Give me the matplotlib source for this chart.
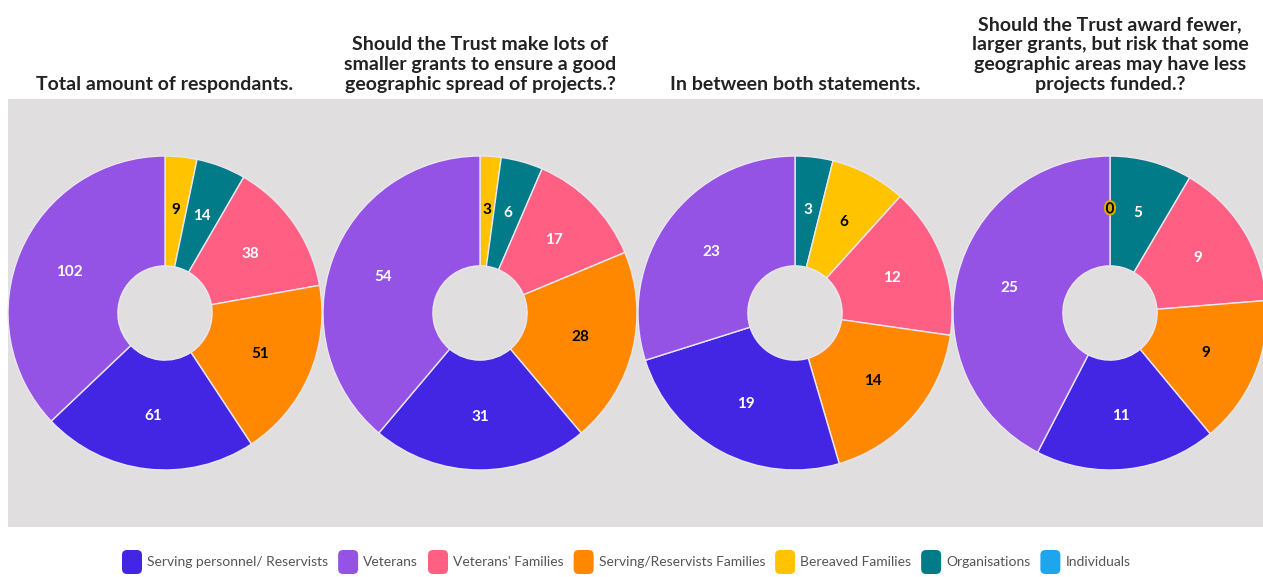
import numpy as np
import matplotlib
matplotlib.use("Agg")
import matplotlib.pyplot as plt
import matplotlib.patheffects as pe
from matplotlib.patches import FancyBboxPatch, Rectangle

plt.rcParams['font.family'] = ['Lato', 'DejaVu Sans']

categorias = ["Serving personnel/ Reservists", "Veterans", "Veterans' Families",
              "Serving/Reservists Families", "Bereaved Families", "Organisations",
              "Individuals"]
colores = ["#4326e3", "#9453e4", "#fe5f83", "#ff8800", "#ffc300", "#027b88", "#1ea5ec"]
texto_oscuro = ["Serving/Reservists Families", "Bereaved Families"]

titulos = ["Total amount of respondants.",
           "Should the Trust make lots of\nsmaller grants to ensure a good\ngeographic spread of projects.?",
           "In between both statements.",
           "Should the Trust award fewer,\nlarger grants, but risk that some\ngeographic areas may have less\nprojects funded.?"]

# orden de las porciones, en sentido horario desde arriba
orden1 = ["Bereaved Families", "Organisations", "Veterans' Families",
          "Serving/Reservists Families", "Serving personnel/ Reservists", "Veterans"]
valores1 = [9, 14, 38, 51, 61, 102]
orden2 = orden1
valores2 = [3, 6, 17, 28, 31, 54]
orden3 = ["Organisations", "Bereaved Families", "Veterans' Families",
          "Serving/Reservists Families", "Serving personnel/ Reservists", "Veterans"]
valores3 = [3, 6, 12, 14, 19, 23]
orden4 = orden1
valores4 = [0, 5, 9, 9, 11, 25]

ordenes = [orden1, orden2, orden3, orden4]
valores = [valores1, valores2, valores3, valores4]

W, H = 1263, 577
fondo = "#e0dede"
fig = plt.figure(figsize=(W/100., H/100.), dpi=100)
fig.patch.set_facecolor("white")

# panel gris
fig.patches.append(Rectangle((8./W, 50./H), (W-8.)/W, 428./H, transform=fig.transFigure,
                             facecolor=fondo, edgecolor="none", zorder=-5))

R = 157.
cx = [165, 480, 795, 1110]
cy = H - 313.

for k in range(4):
    ax = fig.add_axes([(cx[k]-R)/W, (cy-R)/H, 2*R/W, 2*R/H])
    ax.set_facecolor("none")
    ax.set_zorder(2)
    cols = [colores[categorias.index(c)] for c in ordenes[k]]
    v = np.array(valores[k], dtype=float)
    ax.pie(v, colors=cols, startangle=90, counterclock=False, radius=1,
           wedgeprops=dict(width=0.7, edgecolor="#ebe7ef", linewidth=1))
    ax.set_xlim(-1, 1)
    ax.set_ylim(-1, 1)
    ax.axis("off")
    ac = np.cumsum(v) - v/2
    ang = np.radians(90 - 360*ac/v.sum())
    for i in range(len(v)):
        c = "black" if ordenes[k][i] in texto_oscuro else "white"
        t = ax.text(0.66*np.cos(ang[i]), 0.66*np.sin(ang[i]), "%d" % valores[k][i],
                    ha="center", va="center", fontsize=11, fontweight="bold", color=c)
        if valores[k][i] == 0:
            t.set_path_effects([pe.withStroke(linewidth=3, foreground="#d9a800")])
    fig.text(cx[k]/W, (H-93.)/H, titulos[k], ha="center", va="bottom", fontsize=14,
             fontweight="bold", color="#222222", linespacing=1.2)

# leyenda
fig.canvas.draw()
ren = fig.canvas.get_renderer()
x = 122.
yl = H - 562.
for i in range(len(categorias)):
    fig.patches.append(FancyBboxPatch(((x)/W, (yl-12)/H), 20./W, 24./H,
                                      boxstyle="round,pad=0,rounding_size=0.004",
                                      transform=fig.transFigure, facecolor=colores[i],
                                      edgecolor="none", mutation_aspect=W/float(H)))
    t = fig.text((x+25)/W, yl/H, categorias[i], ha="left", va="center",
                 fontsize=10, color="#555555")
    ancho = t.get_window_extent(ren).width
    x = x + 25 + ancho + 10

fig.savefig("out.png", dpi=100)
